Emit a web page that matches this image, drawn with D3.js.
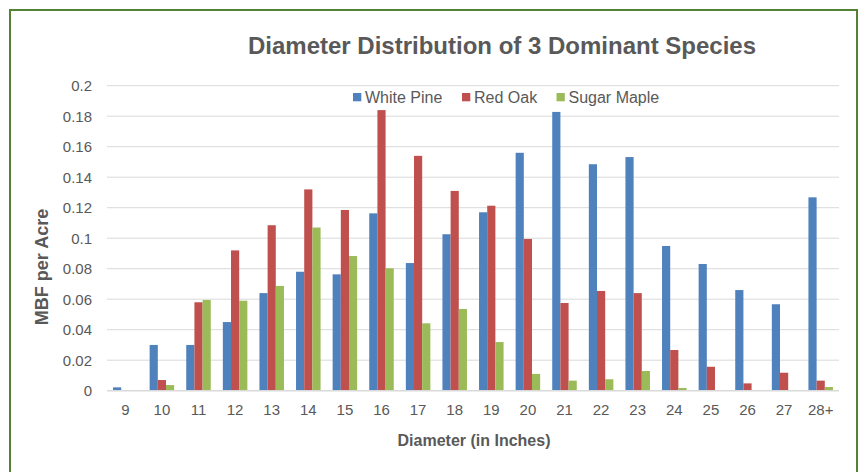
<!DOCTYPE html>
<html>
<head>
<meta charset="utf-8">
<script src="https://cdn.jsdelivr.net/npm/d3@7"></script>
<style>
  html, body { margin: 0; padding: 0; background: #fff; }
  svg { display: block; font-family: "Liberation Sans", Arial, sans-serif; }
</style>
</head>
<body>
<svg id="chart" width="862" height="472"></svg>
<script>
const categories = ["9","10","11","12","13","14","15","16","17","18","19","20","21","22","23","24","25","26","27","28+"];
const seriesNames = ["White Pine", "Red Oak", "Sugar Maple"];
const whitePine = [0.0022,0.030,0.030,0.045,0.064,0.078,0.0763,0.1163,0.0837,0.1026,0.117,0.156,0.1828,0.1485,0.1532,0.0949,0.0831,0.066,0.0567,0.1268];
const redOak =    [0,0.007,0.058,0.092,0.1085,0.132,0.1185,0.184,0.154,0.131,0.1213,0.0995,0.0575,0.0654,0.064,0.0267,0.0157,0.0048,0.0118,0.0066];
const sugarMaple =[0,0.0037,0.0595,0.059,0.0687,0.107,0.0883,0.0803,0.0442,0.0536,0.0319,0.011,0.0066,0.0075,0.0129,0.0018,0,0,0,0.0024];
const yTicks = [0,0.02,0.04,0.06,0.08,0.1,0.12,0.14,0.16,0.18,0.2];
const colors = ["#4f81bd", "#c0504d", "#9bbb59"];

const svg = d3.select("#chart");
const plot = { left: 107, right: 839, top: 85.7, bottom: 390.7 };

// frame
svg.append("rect").attr("x", 10).attr("y", 10).attr("width", 847).attr("height", 470)
  .attr("fill", "#fff").attr("stroke", "#548235").attr("stroke-width", 2);

const x0 = d3.scaleBand().domain(categories).range([plot.left, plot.right])
  .paddingInner(0.33).paddingOuter(0.165);
const x1 = d3.scaleBand().domain(seriesNames).range([0, x0.bandwidth()]);
const y = d3.scaleLinear().domain([0, 0.2]).range([plot.bottom, plot.top]);

// gridlines
svg.append("g").selectAll("line").data(yTicks.filter(d => d > 0)).join("line")
  .attr("x1", plot.left).attr("x2", plot.right)
  .attr("y1", d => y(d)).attr("y2", d => y(d))
  .attr("stroke", "#d9d9d9").attr("stroke-width", 1);

// y axis labels
const yAxis = d3.axisLeft(y).tickValues(yTicks).tickSize(0).tickPadding(15)
  .tickFormat(d => d === 0 ? "0" : String(+d.toFixed(2)));
const gy = svg.append("g").attr("transform", `translate(${plot.left},0)`).call(yAxis);
gy.select(".domain").remove();
gy.selectAll("text").attr("font-size", 15).attr("fill", "#595959")
  .attr("font-family", "Liberation Sans, Arial, sans-serif");

// bars
const data = categories.map((c, i) => ({ cat: c, vals: [whitePine[i], redOak[i], sugarMaple[i]] }));
const groups = svg.append("g").selectAll("g").data(data).join("g")
  .attr("transform", d => `translate(${x0(d.cat)},0)`);
groups.selectAll("rect").data(d => d.vals.map((v, j) => ({ v, j }))).join("rect")
  .attr("x", d => x1(seriesNames[d.j]))
  .attr("width", x1.bandwidth())
  .attr("y", d => y(d.v))
  .attr("height", d => y(0) - y(d.v))
  .attr("fill", d => colors[d.j]);

// x axis baseline
svg.append("line").attr("x1", plot.left).attr("x2", plot.right)
  .attr("y1", y(0)).attr("y2", y(0)).attr("stroke", "#d9d9d9").attr("stroke-width", 1.5);

// x axis labels
const xAxis = d3.axisBottom(x0).tickSize(0).tickPadding(14);
const gx = svg.append("g").attr("transform", `translate(0,${plot.bottom})`).call(xAxis);
gx.select(".domain").remove();
gx.selectAll("text").attr("font-size", 15).attr("fill", "#595959")
  .attr("font-family", "Liberation Sans, Arial, sans-serif");

// title
svg.append("text").attr("x", 502).attr("y", 54).attr("text-anchor", "middle")
  .attr("font-size", 24).attr("font-weight", "bold").attr("fill", "#595959")
  .text("Diameter Distribution of 3 Dominant Species");

// axis titles
svg.append("text").attr("x", (plot.left + plot.right) / 2 + 1).attr("y", 446).attr("text-anchor", "middle")
  .attr("font-size", 16).attr("font-weight", "bold").attr("fill", "#595959")
  .text("Diameter (in Inches)");
svg.append("text").attr("transform", `translate(48,267) rotate(-90)`)
  .attr("text-anchor", "middle")
  .attr("font-size", 18).attr("font-weight", "bold").attr("fill", "#595959")
  .text("MBF per Acre");

// legend
const legendX = [353, 462, 556.5];
const lg = svg.append("g").selectAll("g").data(seriesNames).join("g")
  .attr("transform", (d, i) => `translate(${legendX[i]},93)`);
lg.append("rect").attr("width", 8.3).attr("height", 8.3).attr("fill", (d, i) => colors[i]);
lg.append("text").attr("x", 12).attr("y", 10).attr("font-size", 16).attr("fill", "#595959").text(d => d);
</script>
</body>
</html>
